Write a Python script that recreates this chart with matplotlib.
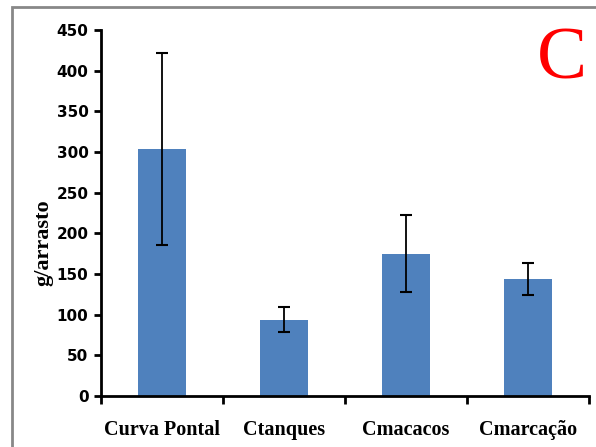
import numpy as np
import matplotlib.pyplot as plt
from matplotlib.patches import Rectangle

# Biomass per trawl at each site, with standard error
sites = ["Curva Pontal", "Ctanques", "Cmacacos", "Cmarcação"]
means = [304, 94, 175, 144]
errors = [118, 15.5, 47, 19.5]

fig = plt.figure(figsize=(5.96, 4.47), dpi=100)
ax = fig.add_axes([101 / 596, 51 / 447, 488 / 596, 366 / 447])

x = np.arange(len(sites))
ax.bar(x, means, width=0.4, color="#4F81BD", zorder=2)
ax.errorbar(x, means, yerr=errors, fmt="none", ecolor="black",
            elinewidth=1.3, capsize=4, capthick=1.5, zorder=3)

ax.set_xlim(-0.5, len(sites) - 0.5)
ax.set_ylim(0, 450)
ax.set_yticks(np.arange(0, 451, 50))
ax.set_yticklabels([str(v) for v in range(0, 451, 50)],
                   fontfamily="DejaVu Sans", fontweight="bold", fontsize=11)

# category labels centred, tick marks between categories
ax.set_xticks(x)
ax.set_xticklabels(sites, fontfamily="Liberation Serif", fontweight="bold",
                   fontsize=14.5)
ax.tick_params(axis="x", length=0, pad=17)
ax.set_xticks(np.arange(-0.5, len(sites)), minor=True)
ax.tick_params(axis="x", which="minor", length=6, width=2, direction="out")
ax.tick_params(axis="y", length=5, width=2, direction="out", pad=4)

for side in ["top", "right"]:
    ax.spines[side].set_visible(False)
for side in ["left", "bottom"]:
    ax.spines[side].set_linewidth(2)

ax.set_ylabel("g/arrasto", fontfamily="Liberation Serif", fontweight="bold",
              fontsize=16)
ax.yaxis.set_label_coords(-0.097, 0.418)

fig.text(562 / 596, 1 - 61 / 447, "C", color="red", fontsize=54,
         fontfamily="Liberation Serif", ha="center", va="center")

# outer grey frame
fig.patches.append(Rectangle((12 / 596, -0.1), 1.2, 1.1 - 7 / 447,
                             transform=fig.transFigure, fill=False,
                             edgecolor="#888888", linewidth=2))

fig.savefig("out.png", dpi=100)
